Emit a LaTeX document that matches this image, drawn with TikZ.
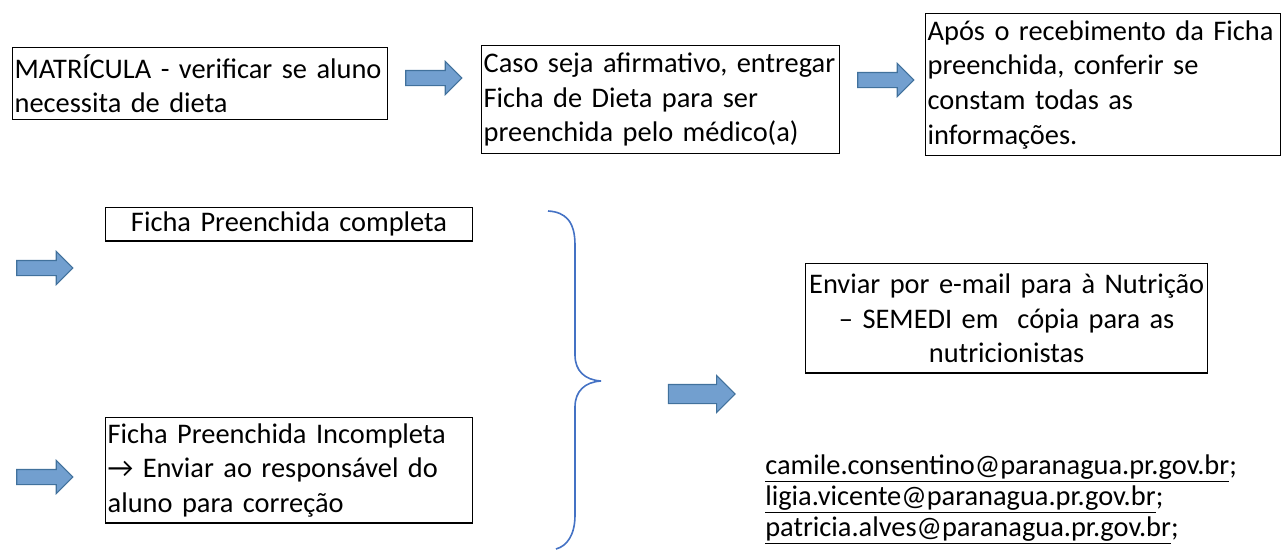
\documentclass[tikz,border=0pt]{standalone}
\usepackage{fontspec}
\setmainfont{Carlito}
\usetikzlibrary{shapes.arrows}
\definecolor{setaazul}{RGB}{114,159,207}
\definecolor{bordaazul}{RGB}{65,113,156}
\definecolor{chaveazul}{RGB}{68,114,196}
\tikzset{
  caixa/.style={draw, line width=1pt, inner xsep=1.5pt, inner ysep=0pt, anchor=north west, align=left},
  caixacentro/.style={caixa, align=center},
  seta/.style={single arrow, draw=bordaazul, fill=setaazul, line width=0.8pt, inner sep=0pt,
    inner ysep=5.25pt, minimum height=42pt, single arrow head extend=6.75pt},
}
\begin{document}
\begin{tikzpicture}[x=0.75pt,y=-0.75pt,font=\fontsize{21.3pt}{26pt}\selectfont]
  \useasboundingbox (0,0) rectangle (1282,550);
  \node[caixa, text width=278pt, minimum height=54pt] (matricula) at (12,47)
    {MATRÍCULA - verificar se aluno\\necessita de dieta};
  \node[caixa, text width=265.5pt, minimum height=81pt] (entrega) at (481,45)
    {Caso seja afirmativo, entregar\\Ficha de Dieta para ser\\preenchida pelo médico(a)};
  \node[caixa, text width=263pt, minimum height=106.5pt] (confere) at (925,13)
    {Após o recebimento da Ficha\\preenchida, conferir se\\constam todas as\\informações.};
  \node[caixacentro, text width=272pt, minimum height=25pt] (completa) at (105,207)
    {Ficha Preenchida completa};
  \node[caixa, text width=272pt, minimum height=79pt] (incompleta) at (105,417)
    {Ficha Preenchida Incompleta\\→ Enviar ao responsável do\\aluno para correção};
  \node[caixacentro, text width=298.5pt, minimum height=82pt] (envia) at (805,263)
    {Enviar por e-mail para à Nutrição\\– SEMEDI em\ \ cópia para as\\nutricionistas};
  \node[anchor=north west, align=left, inner sep=0pt, font=\fontsize{21.3pt}{23.25pt}\selectfont] (emails) at (765,455)
    {\underline{camile.consentino@paranagua.pr.gov.br};\\
     \underline{ligia.vicente@paranagua.pr.gov.br};\\
     \underline{patricia.alves@paranagua.pr.gov.br};};
  \node[seta] (seta1) at (430,78) {};
  \node[seta] (seta2) at (882,80) {};
  \node[seta] (seta3) at (41,268) {};
  \node[seta] (seta4) at (41,477) {};
  \node[seta, minimum height=50pt, inner ysep=6.75pt] (seta5) at (697,394) {};
  \draw[chaveazul, line width=1.2pt] (548,211) .. controls (566,212) and (575,222) .. (575,245)
    -- (575,355) .. controls (575,371) and (585,380) .. (601,381)
    .. controls (585,382) and (575,391) .. (575,407) -- (575,515)
    .. controls (575,535) and (567,546) .. (556,549);
\end{tikzpicture}
\end{document}
